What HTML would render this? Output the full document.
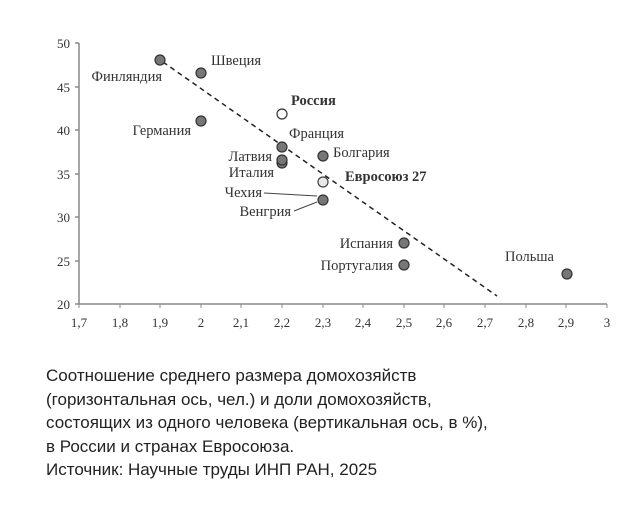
<!DOCTYPE html>
<html><head><meta charset="utf-8"><style>
body{margin:0;background:#fff;width:624px;height:516px;overflow:hidden}
.cap{position:absolute;left:46px;top:364px;font:17px/23.5px "Liberation Sans",sans-serif;color:#222}
</style></head><body>
<svg width="624" height="360" style="position:absolute;left:0;top:0" font-family="Liberation Serif,serif" font-size="14.5" fill="#333">
<g stroke="#888" stroke-width="1.5">
<line x1="79" y1="43" x2="79" y2="304"/><line x1="79" y1="304" x2="607" y2="304"/>
<line x1="75" y1="43" x2="79" y2="43"/><line x1="75" y1="87" x2="79" y2="87"/><line x1="75" y1="130" x2="79" y2="130"/><line x1="75" y1="174" x2="79" y2="174"/><line x1="75" y1="217" x2="79" y2="217"/><line x1="75" y1="261" x2="79" y2="261"/><line x1="75" y1="304" x2="79" y2="304"/>
</g>
<g stroke="#888" stroke-width="1">
<line x1="79" y1="304" x2="79" y2="308"/><line x1="120" y1="304" x2="120" y2="308"/><line x1="160" y1="304" x2="160" y2="308"/><line x1="201" y1="304" x2="201" y2="308"/><line x1="241" y1="304" x2="241" y2="308"/><line x1="282" y1="304" x2="282" y2="308"/><line x1="323" y1="304" x2="323" y2="308"/><line x1="363" y1="304" x2="363" y2="308"/><line x1="404" y1="304" x2="404" y2="308"/><line x1="444" y1="304" x2="444" y2="308"/><line x1="485" y1="304" x2="485" y2="308"/><line x1="526" y1="304" x2="526" y2="308"/><line x1="566" y1="304" x2="566" y2="308"/><line x1="607" y1="304" x2="607" y2="308"/>
</g>
<g text-anchor="end" font-size="13">
<text x="70" y="48">50</text><text x="70" y="92">45</text><text x="70" y="135">40</text><text x="70" y="179">35</text><text x="70" y="222">30</text><text x="70" y="266">25</text><text x="70" y="309">20</text>
</g>
<g text-anchor="middle" font-size="13">
<text x="79" y="327">1,7</text><text x="120" y="327">1,8</text><text x="160" y="327">1,9</text><text x="201" y="327">2</text><text x="241" y="327">2,1</text><text x="282" y="327">2,2</text><text x="323" y="327">2,3</text><text x="363" y="327">2,4</text><text x="404" y="327">2,5</text><text x="444" y="327">2,6</text><text x="485" y="327">2,7</text><text x="526" y="327">2,8</text><text x="566" y="327">2,9</text><text x="607" y="327">3</text>
</g>
<line x1="163" y1="62" x2="497" y2="296" stroke="#222" stroke-width="1.5" stroke-dasharray="5,4"/>
<g stroke="#444" stroke-width="1">
<line x1="264" y1="193" x2="317" y2="196"/><line x1="294" y1="211" x2="317" y2="202"/>
</g>
<g fill="#777" stroke="#333" stroke-width="1.2">
<circle cx="160" cy="60" r="5"/><circle cx="201" cy="73" r="5"/><circle cx="201" cy="121" r="5"/>
<circle cx="282" cy="147" r="5"/><circle cx="282" cy="163" r="5"/><circle cx="282" cy="160" r="5"/>
<circle cx="323" cy="156" r="5"/><circle cx="323" cy="200" r="5"/>
<circle cx="404" cy="243" r="5"/><circle cx="404" cy="265" r="5"/><circle cx="567" cy="274" r="5"/>
</g>
<circle cx="282" cy="114" r="5" fill="#fff" stroke="#333" stroke-width="1.2"/>
<circle cx="323" cy="182" r="5" fill="#e8e8e8" stroke="#444" stroke-width="1.2"/>
<g text-anchor="end">
<text x="162" y="81">Финляндия</text>
<text x="191" y="135">Германия</text>
<text x="272" y="161">Латвия</text>
<text x="274" y="177">Италия</text>
<text x="262" y="197">Чехия</text>
<text x="291" y="216">Венгрия</text>
<text x="393" y="248">Испания</text>
<text x="393" y="270">Португалия</text>
</g>
<text x="211" y="65">Швеция</text>
<text x="291" y="105" font-weight="bold">Россия</text>
<text x="289" y="138">Франция</text>
<text x="333" y="157">Болгария</text>
<text x="345" y="181" font-weight="bold">Евросоюз 27</text>
<text x="505" y="261">Польша</text>
</svg>
<div class="cap">Соотношение среднего размера домохозяйств<br>(горизонтальная ось, чел.) и доли домохозяйств,<br>состоящих из одного человека (вертикальная ось, в %),<br>в России и странах Евросоюза.<br>Источник: Научные труды ИНП РАН, 2025</div>
</body></html>
